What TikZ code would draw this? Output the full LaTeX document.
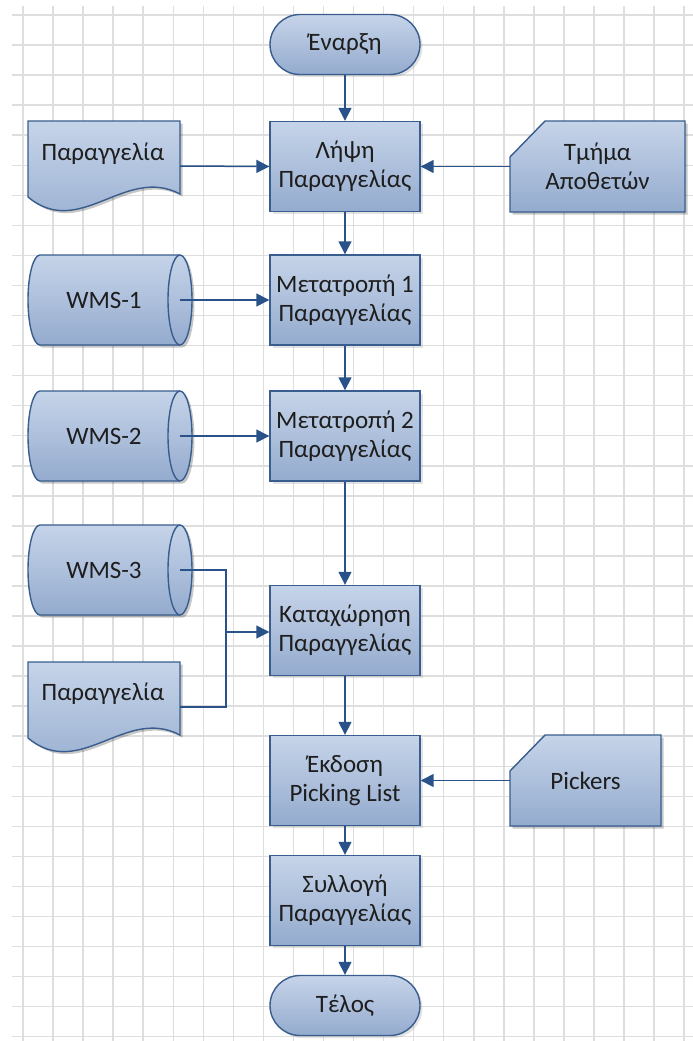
\documentclass[tikz,border=0pt]{standalone}
\usepackage{fontspec}
\setmainfont{Carlito}
\usetikzlibrary{arrows.meta,shadows,calc}

\definecolor{gridcol}{RGB}{222,222,222}
\definecolor{edgecol}{RGB}{56,93,142}
\definecolor{linkcol}{RGB}{42,82,138}
\definecolor{filltop}{RGB}{198,212,233}
\definecolor{fillbot}{RGB}{148,171,206}
\definecolor{inkcol}{RGB}{30,30,30}

\tikzset{
  shapebase/.style={draw=edgecol, line width=1.4pt, top color=filltop, bottom color=fillbot},
  castshadow/.style={fill=black, opacity=0.22},
  txt/.style={font=\fontsize{25}{29}\selectfont, text=inkcol, align=center, inner sep=0pt},
  frame/.style={inner sep=0pt, outer sep=0pt},
  procbox/.style={shapebase, txt, minimum width=150pt, minimum height=90pt,
    drop shadow={shadow xshift=2.5pt, shadow yshift=-2.5pt, opacity=0.22}},
  termbox/.style={procbox, minimum height=60pt, rounded corners=30pt},
  flow/.style={draw=linkcol, line width=1.5pt, -{Triangle[length=13pt,width=13pt]}},
  link/.style={draw=linkcol, line width=1.5pt},
}

% document symbol (wavy bottom), drawn round the centre of a frame node
\newcommand\docshape[1]{%
  \begin{scope}[shift={(#1.center)}]
    \fill[castshadow, shift={(2.5,2.5)}] (-76,-45) -- (76,-45) -- (76,28)
      .. controls (21,-1) and (-24,74) .. (-76,31) -- cycle;
    \path[shapebase] (-76,-45) -- (76,-45) -- (76,28)
      .. controls (21,-1) and (-24,74) .. (-76,31) -- cycle;
  \end{scope}}

% manual input card (cut top-left corner); #2 = half width
\newcommand\cardshape[2]{%
  \begin{scope}[shift={(#1.center)}]
    \fill[castshadow, shift={(2.5,2.5)}] (-#2,-9.5) -- (-#2+35,-45.5) -- (#2,-45.5)
      -- (#2,45.5) -- (-#2,45.5) -- cycle;
    \path[shapebase] (-#2,-9.5) -- (-#2+35,-45.5) -- (#2,-45.5)
      -- (#2,45.5) -- (-#2,45.5) -- cycle;
  \end{scope}}

% stored data (cylinder lying on its side)
\newcommand\cylshape[1]{%
  \begin{scope}[shift={(#1.center)}]
    \fill[castshadow, shift={(2.5,2.5)}] (-70,-45) -- (70,-45)
      .. controls (76.6,-45) and (82,-24.9) .. (82,0)
      .. controls (82,24.9) and (76.6,45) .. (70,45) -- (-70,45)
      .. controls (-76.6,45) and (-82,24.9) .. (-82,0)
      .. controls (-82,-24.9) and (-76.6,-45) .. (-70,-45) -- cycle;
    \path[shapebase] (-70,-45) -- (70,-45)
      .. controls (76.6,-45) and (82,-24.9) .. (82,0)
      .. controls (82,24.9) and (76.6,45) .. (70,45) -- (-70,45)
      .. controls (-76.6,45) and (-82,24.9) .. (-82,0)
      .. controls (-82,-24.9) and (-76.6,-45) .. (-70,-45) -- cycle;
    \draw[draw=edgecol, line width=1.4pt] (70,-45)
      .. controls (63.4,-45) and (58,-24.9) .. (58,0)
      .. controls (58,24.9) and (63.4,45) .. (70,45);
  \end{scope}}

\begin{document}
\begin{tikzpicture}[x=1pt,y=-1pt]
\useasboundingbox (0,0) rectangle (693,1041);
\fill[white] (0,0) rectangle (693,1041);

% background grid
\foreach \i in {0,...,34}
  \draw[gridcol, line width=1.5pt] (12,{15+30.05*\i}) -- (693,{15+30.05*\i});
\foreach \i in {0,...,22}
  \draw[gridcol, line width=1.5pt] ({23+30.05*\i},6) -- ({23+30.05*\i},1041);

% frames of the drawn symbols
\node[frame, minimum width=152pt, minimum height=90pt] (doc1) at (104,166) {};
\node[frame, minimum width=152pt, minimum height=90pt] (doc2) at (104,707) {};
\node[frame, minimum width=175pt, minimum height=91pt] (card1) at (597.5,166.5) {};
\node[frame, minimum width=151pt, minimum height=91pt] (pick) at (585.5,780.5) {};
\node[frame, minimum width=164pt, minimum height=90pt] (wms1) at (110,300) {};
\node[frame, minimum width=164pt, minimum height=90pt] (wms2) at (110,436) {};
\node[frame, minimum width=164pt, minimum height=90pt] (wms3) at (110,570) {};

\docshape{doc1}
\docshape{doc2}
\cardshape{card1}{87.5}
\cardshape{pick}{75.5}
\cylshape{wms1}
\cylshape{wms2}
\cylshape{wms3}

% labels of the drawn symbols
\node[txt] (doc1-t) at ($(doc1.center)+(-1,-12)$) {Παραγγελία};
\node[txt] (doc2-t) at ($(doc2.center)+(-1,-13)$) {Παραγγελία};
\node[txt] (card1-t) at (card1.center) {Τμήμα\\Αποθετών};
\node[txt] (pick-t) at (pick.center) {Pickers};
\node[txt] (wms1-t) at ($(wms1.center)+(-6,0)$) {WMS-1};
\node[txt] (wms2-t) at ($(wms2.center)+(-6,0)$) {WMS-2};
\node[txt] (wms3-t) at ($(wms3.center)+(-6,0)$) {WMS-3};

% connection points on the cylinder ends
\coordinate (wms1-p) at ($(wms1.east)+(-12,0)$);
\coordinate (wms2-p) at ($(wms2.east)+(-12,0)$);
\coordinate (wms3-p) at ($(wms3.east)+(-12,0)$);

% process column
\node[termbox] (start) at (345,44.5) {Έναρξη};
\node[procbox] (lh) at (345,166.5) {Λήψη\\Παραγγελίας};
\node[procbox] (m1) at (345,300) {Μετατροπή 1\\Παραγγελίας};
\node[procbox] (m2) at (345,436) {Μετατροπή 2\\Παραγγελίας};
\node[procbox] (kat) at (345,630.5) {Καταχώρηση\\Παραγγελίας};
\node[procbox] (ek) at (345,780.5) {Έκδοση\\Picking List};
\node[procbox] (syl) at (345,900.5) {Συλλογή\\Παραγγελίας};
\node[termbox] (fin) at (345,1005.5) {Τέλος};

% main flow
\draw[flow] (start) -- (lh);
\draw[flow] (lh) -- (m1);
\draw[flow] (m1) -- (m2);
\draw[flow] (m2) -- (kat);
\draw[flow] (kat) -- (ek);
\draw[flow] (ek) -- (syl);
\draw[flow] (syl) -- (fin);

% inputs
\draw[flow] (doc1.east) -- (lh.west);
\draw[flow] (card1.west) -- (lh.east);
\draw[flow] (wms1-p) -- (m1.west);
\draw[flow] (wms2-p) -- (m2.west);
\coordinate (join) at (226,632);
\draw[link] (wms3-p) -| (join) |- (doc2.east);
\draw[flow] (join) -- (join -| kat.west);
\draw[flow] (pick.west) -- (ek.east);
\end{tikzpicture}
\end{document}
